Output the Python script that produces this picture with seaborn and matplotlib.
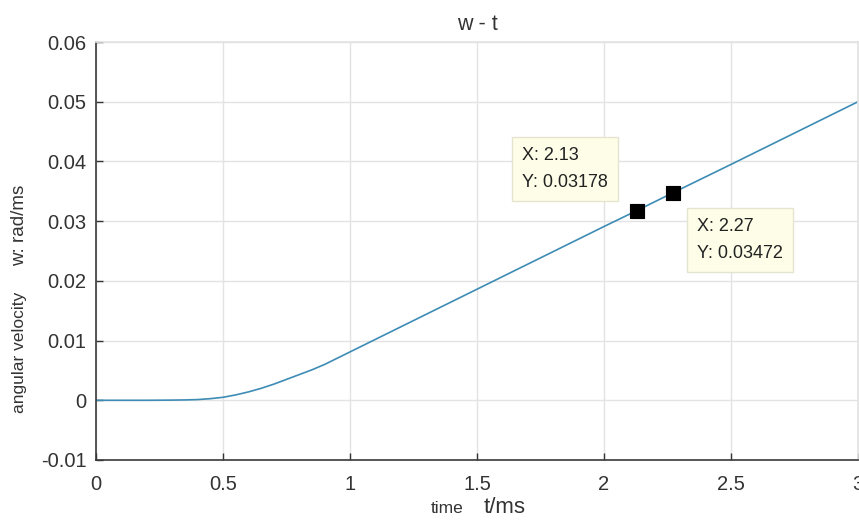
import matplotlib
matplotlib.use("Agg")
import matplotlib.pyplot as plt
import seaborn as sns
import pandas as pd

t_ms = [0, 0.2, 0.3, 0.35, 0.4, 0.45, 0.5, 0.55, 0.6, 0.65, 0.7, 0.75, 0.8, 0.85,
        0.9, 0.95, 1.0, 1.5, 2.0, 2.13, 2.27, 2.5, 3.0]
w_rad = [0, 0, 0.00003, 0.00006, 0.00012, 0.00027, 0.0005, 0.0009, 0.0014, 0.002,
         0.0027, 0.0035, 0.0043, 0.0051, 0.006, 0.00705, 0.0081, 0.0186, 0.0291,
         0.03178, 0.03472, 0.0395, 0.0500]
tip_t = [2.13, 2.27]
tip_w = [0.03178, 0.03472]
x_ticks = [0, 0.5, 1, 1.5, 2, 2.5, 3]
x_labels = ["0", "0.5", "1", "1.5", "2", "2.5", "3"]
y_ticks = [-0.01, 0, 0.01, 0.02, 0.03, 0.04, 0.05, 0.06]
y_labels = ["-0.01", "0", "0.01", "0.02", "0.03", "0.04", "0.05", "0.06"]

sns.set_theme(style="white")
plt.rcParams['font.family'] = ['Liberation Sans', 'DejaVu Sans']

fig = plt.figure(figsize=(8.59, 5.23), dpi=100)
ax = fig.add_axes([96/859, 1 - 460/523, 762/859, 418/523])

df = pd.DataFrame({"t": t_ms, "w": w_rad})
sns.lineplot(data=df, x="t", y="w", ax=ax, color="#3d8cb5", linewidth=1.2)
tips = pd.DataFrame({"t": tip_t, "w": tip_w})
sns.scatterplot(data=tips, x="t", y="w", ax=ax, marker="s", s=105, color="black",
                edgecolor="black", zorder=5)

ax.set_xlim(0, 3)
ax.set_ylim(-0.01, 0.06)
ax.set_xticks(x_ticks)
ax.set_xticklabels(x_labels)
ax.set_yticks(y_ticks)
ax.set_yticklabels(y_labels)
ax.grid(True, color="#e3e3e3", linewidth=1)
ax.set_axisbelow(True)
ax.tick_params(direction="in", length=5, width=1, colors="#333333", labelsize=14.5,
               left=True, bottom=True)
ax.tick_params(axis="x", pad=11)
ax.tick_params(axis="y", pad=7)
for s in ["top", "right"]:
    ax.spines[s].set_color("#e3e3e3")
for s in ["left", "bottom"]:
    ax.spines[s].set_color("#3a3a3a")
    ax.spines[s].set_linewidth(1.2)
ax.set_xlabel("")
ax.set_ylabel("")

ax.set_title("w - t", fontsize=15.5, color="#333333", pad=9)

# y label parts
fig.text(20/859, 1 - 352/523, "angular velocity", rotation=90, fontsize=12.5,
         color="#333333", ha="center", va="center")
fig.text(20/859, 1 - 225/523, "w: rad/ms", rotation=90, fontsize=13.5,
         color="#333333", ha="center", va="center")
# x label parts
fig.text(447/859, 1 - 513/523, "time", fontsize=12.5, color="#333333",
         ha="center", va="baseline")
fig.text(505/859, 1 - 513/523, "t/ms", fontsize=16, color="#333333",
         ha="center", va="baseline")

box = dict(boxstyle="square,pad=0.55", facecolor="#fdfde8", edgecolor="#e4e4d0", linewidth=1)
ax.text(1.846, 0.03878, "X: 2.13\nY: 0.03178", fontsize=13, color="#222222",
        va="center", ha="center", multialignment="left", bbox=box, linespacing=1.75)
ax.text(2.535, 0.02680, "X: 2.27\nY: 0.03472", fontsize=13, color="#222222",
        va="center", ha="center", multialignment="left", bbox=box, linespacing=1.75)

fig.savefig("out.png", dpi=100)
